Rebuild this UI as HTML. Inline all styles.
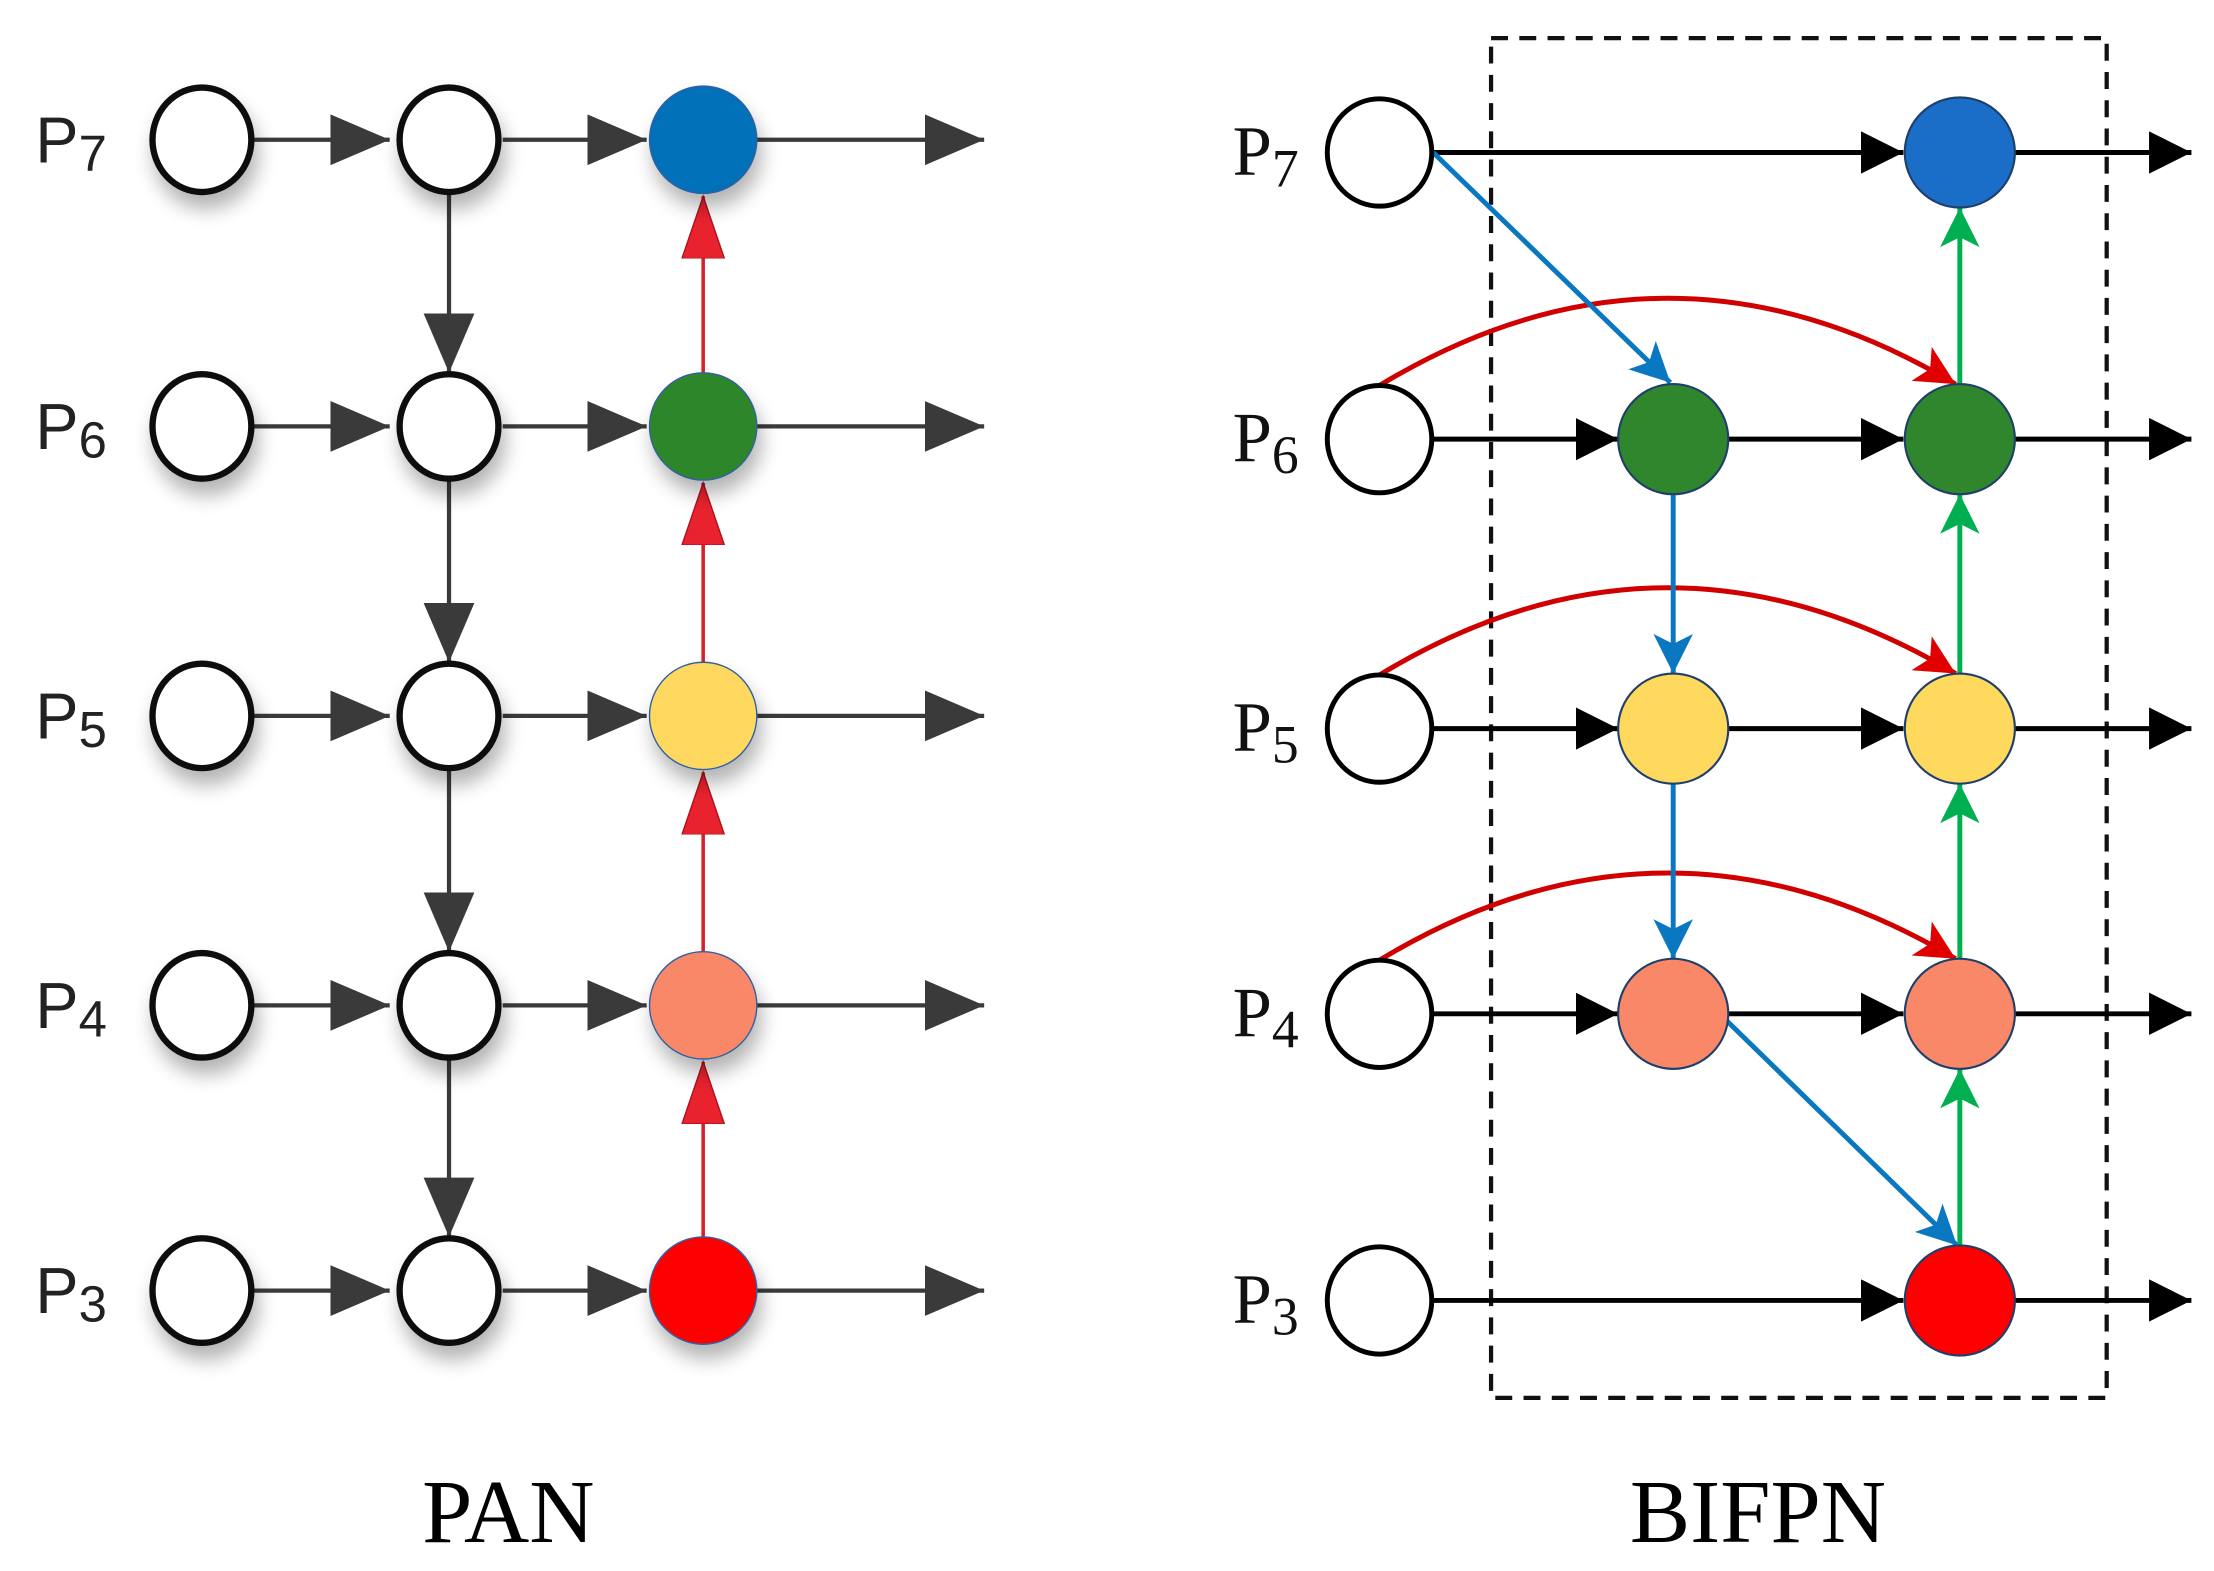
<!DOCTYPE html>
<html><head><meta charset="utf-8"><style>html,body{margin:0;padding:0;background:#fff}svg{display:block}</style></head><body>
<svg width="2214" height="1571" viewBox="0 0 1568 1112.6" preserveAspectRatio="none" xmlns="http://www.w3.org/2000/svg">
<defs>
<marker id="ag" markerUnits="userSpaceOnUse" markerWidth="44" markerHeight="36" refX="42" refY="18" orient="auto"><path d="M0,0 L42,18 L0,36 z" fill="#3a3a3a"/></marker>
<marker id="ar" markerUnits="userSpaceOnUse" markerWidth="46" markerHeight="32" refX="44" refY="16" orient="auto"><path d="M0,1 L44,16 L0,31 z" fill="#e8232e" stroke="#b01020" stroke-width="1"/></marker>
<marker id="ab" markerUnits="userSpaceOnUse" markerWidth="32" markerHeight="30" refX="30" refY="15" orient="auto"><path d="M0,0 L30,15 L0,30 z" fill="#000"/></marker>
<marker id="abl" markerUnits="userSpaceOnUse" markerWidth="30" markerHeight="28" refX="28" refY="14" orient="auto"><path d="M0,0 L28,14 L0,28 L7,14 z" fill="#0a78c0"/></marker>
<marker id="agr" markerUnits="userSpaceOnUse" markerWidth="30" markerHeight="28" refX="28" refY="14" orient="auto"><path d="M0,0 L28,14 L0,28 L7,14 z" fill="#00b050"/></marker>
<marker id="ard" markerUnits="userSpaceOnUse" markerWidth="30" markerHeight="28" refX="28" refY="14" orient="auto"><path d="M0,0 L28,14 L0,28 L7,14 z" fill="#e00000"/></marker>
<filter id="sh" x="-50%" y="-50%" width="200%" height="200%"><feGaussianBlur in="SourceAlpha" stdDeviation="7"/><feOffset dx="3" dy="10"/><feComponentTransfer><feFuncA type="linear" slope="0.3"/></feComponentTransfer><feMerge><feMergeNode/><feMergeNode in="SourceGraphic"/></feMerge></filter>
</defs>

<g font-family="Liberation Sans, sans-serif" fill="#222">
<text x="25" y="115" font-size="46">P<tspan font-size="36" dy="6">7</tspan></text>
<text x="25" y="318" font-size="46">P<tspan font-size="36" dy="6">6</tspan></text>
<text x="25" y="523" font-size="46">P<tspan font-size="36" dy="6">5</tspan></text>
<text x="25" y="728" font-size="46">P<tspan font-size="36" dy="6">4</tspan></text>
<text x="25" y="930" font-size="46">P<tspan font-size="36" dy="6">3</tspan></text>
</g>
<g stroke="#3a3a3a" stroke-width="3">
<line x1="180" y1="99" x2="276" y2="99" marker-end="url(#ag)"/><line x1="356" y1="99" x2="458" y2="99" marker-end="url(#ag)"/><line x1="536" y1="99" x2="697" y2="99" marker-end="url(#ag)"/>
<line x1="180" y1="302" x2="276" y2="302" marker-end="url(#ag)"/><line x1="356" y1="302" x2="458" y2="302" marker-end="url(#ag)"/><line x1="536" y1="302" x2="697" y2="302" marker-end="url(#ag)"/>
<line x1="180" y1="507" x2="276" y2="507" marker-end="url(#ag)"/><line x1="356" y1="507" x2="458" y2="507" marker-end="url(#ag)"/><line x1="536" y1="507" x2="697" y2="507" marker-end="url(#ag)"/>
<line x1="180" y1="712" x2="276" y2="712" marker-end="url(#ag)"/><line x1="356" y1="712" x2="458" y2="712" marker-end="url(#ag)"/><line x1="536" y1="712" x2="697" y2="712" marker-end="url(#ag)"/>
<line x1="180" y1="914" x2="276" y2="914" marker-end="url(#ag)"/><line x1="356" y1="914" x2="458" y2="914" marker-end="url(#ag)"/><line x1="536" y1="914" x2="697" y2="914" marker-end="url(#ag)"/>
<line x1="318" y1="137" x2="318" y2="264" marker-end="url(#ag)"/>
<line x1="318" y1="340" x2="318" y2="469" marker-end="url(#ag)"/>
<line x1="318" y1="545" x2="318" y2="674" marker-end="url(#ag)"/>
<line x1="318" y1="750" x2="318" y2="876" marker-end="url(#ag)"/>
</g>
<g stroke="#d8202a" stroke-width="2.5">
<line x1="498" y1="876" x2="498" y2="752" marker-end="url(#ar)"/>
<line x1="498" y1="674" x2="498" y2="547" marker-end="url(#ar)"/>
<line x1="498" y1="469" x2="498" y2="342" marker-end="url(#ar)"/>
<line x1="498" y1="264" x2="498" y2="139" marker-end="url(#ar)"/>
</g>
<g filter="url(#sh)" stroke-width="4.5">
<g fill="#fff" stroke="#111">
<ellipse cx="143" cy="99" rx="35" ry="37"/><ellipse cx="318" cy="99" rx="35" ry="37"/>
<ellipse cx="143" cy="302" rx="35" ry="37"/><ellipse cx="318" cy="302" rx="35" ry="37"/>
<ellipse cx="143" cy="507" rx="35" ry="37"/><ellipse cx="318" cy="507" rx="35" ry="37"/>
<ellipse cx="143" cy="712" rx="35" ry="37"/><ellipse cx="318" cy="712" rx="35" ry="37"/>
<ellipse cx="143" cy="914" rx="35" ry="37"/><ellipse cx="318" cy="914" rx="35" ry="37"/>
</g>
<g stroke="#3060a0" stroke-width="1">
<ellipse cx="498" cy="99" rx="38" ry="38" fill="#0070b8"/>
<ellipse cx="498" cy="302" rx="38" ry="38" fill="#2f862c"/>
<ellipse cx="498" cy="507" rx="38" ry="38" fill="#ffd85e"/>
<ellipse cx="498" cy="712" rx="38" ry="38" fill="#f98868"/>
<ellipse cx="498" cy="914" rx="38" ry="38" fill="#fe0000"/>
</g>
</g>

<rect x="1056" y="27" width="436" height="963" fill="none" stroke="#111" stroke-width="3" stroke-dasharray="12,8"/>
<g font-family="Liberation Serif, serif" fill="#111">
<text x="873" y="124" font-size="50">P<tspan font-size="38" dy="8">7</tspan></text>
<text x="873" y="327" font-size="50">P<tspan font-size="38" dy="8">6</tspan></text>
<text x="873" y="532" font-size="50">P<tspan font-size="38" dy="8">5</tspan></text>
<text x="873" y="734" font-size="50">P<tspan font-size="38" dy="8">4</tspan></text>
<text x="873" y="937" font-size="50">P<tspan font-size="38" dy="8">3</tspan></text>
</g>
<g stroke="#000" stroke-width="3.5">
<line x1="1015" y1="108" x2="1348" y2="108" marker-end="url(#ab)"/><line x1="1426" y1="108" x2="1552" y2="108" marker-end="url(#ab)"/>
<line x1="1015" y1="311" x2="1146" y2="311" marker-end="url(#ab)"/><line x1="1224" y1="311" x2="1348" y2="311" marker-end="url(#ab)"/><line x1="1426" y1="311" x2="1552" y2="311" marker-end="url(#ab)"/>
<line x1="1015" y1="516" x2="1146" y2="516" marker-end="url(#ab)"/><line x1="1224" y1="516" x2="1348" y2="516" marker-end="url(#ab)"/><line x1="1426" y1="516" x2="1552" y2="516" marker-end="url(#ab)"/>
<line x1="1015" y1="718" x2="1146" y2="718" marker-end="url(#ab)"/><line x1="1224" y1="718" x2="1348" y2="718" marker-end="url(#ab)"/><line x1="1426" y1="718" x2="1552" y2="718" marker-end="url(#ab)"/>
<line x1="1015" y1="921" x2="1348" y2="921" marker-end="url(#ab)"/><line x1="1426" y1="921" x2="1552" y2="921" marker-end="url(#ab)"/>
</g>
<g stroke="#d00000" stroke-width="3.5" fill="none">
<path d="M977,273 Q1180,150 1385,272" marker-end="url(#ard)"/>
<path d="M977,478 Q1180,355 1385,477" marker-end="url(#ard)"/>
<path d="M977,680 Q1180,557 1385,679" marker-end="url(#ard)"/>
</g>
<g stroke="#0a78c0" stroke-width="3.5" fill="none">
<line x1="1015" y1="108" x2="1183" y2="271" marker-end="url(#abl)"/>
<line x1="1185" y1="350" x2="1185" y2="477" marker-end="url(#abl)"/>
<line x1="1185" y1="555" x2="1185" y2="679" marker-end="url(#abl)"/>
<line x1="1222" y1="722" x2="1386" y2="882" marker-end="url(#abl)"/>
</g>
<g stroke="#00b050" stroke-width="3.5">
<line x1="1388" y1="882" x2="1388" y2="757" marker-end="url(#agr)"/>
<line x1="1388" y1="679" x2="1388" y2="555" marker-end="url(#agr)"/>
<line x1="1388" y1="477" x2="1388" y2="350" marker-end="url(#agr)"/>
<line x1="1388" y1="272" x2="1388" y2="147" marker-end="url(#agr)"/>
</g>
<g fill="#fff" stroke="#000" stroke-width="3.5">
<ellipse cx="977" cy="108" rx="37" ry="38"/><ellipse cx="977" cy="311" rx="37" ry="38"/><ellipse cx="977" cy="516" rx="37" ry="38"/><ellipse cx="977" cy="718" rx="37" ry="38"/><ellipse cx="977" cy="921" rx="37" ry="38"/>
</g>
<g stroke="#1f3f6a" stroke-width="1.5">
<ellipse cx="1388" cy="108" rx="39" ry="39" fill="#1a6ec8"/>
<ellipse cx="1185" cy="311" rx="39" ry="39" fill="#2f862c"/><ellipse cx="1388" cy="311" rx="39" ry="39" fill="#2f862c"/>
<ellipse cx="1185" cy="516" rx="39" ry="39" fill="#ffd85e"/><ellipse cx="1388" cy="516" rx="39" ry="39" fill="#ffd85e"/>
<ellipse cx="1185" cy="718" rx="39" ry="39" fill="#f98868"/><ellipse cx="1388" cy="718" rx="39" ry="39" fill="#f98868"/>
<ellipse cx="1388" cy="921" rx="39" ry="39" fill="#fe0000"/>
</g>

<g font-family="Liberation Serif, serif" font-size="64" fill="#000" text-anchor="middle">
<text x="360" y="1092">PAN</text>
<text x="1245" y="1092">BIFPN</text>
</g>
</svg>
</body></html>
